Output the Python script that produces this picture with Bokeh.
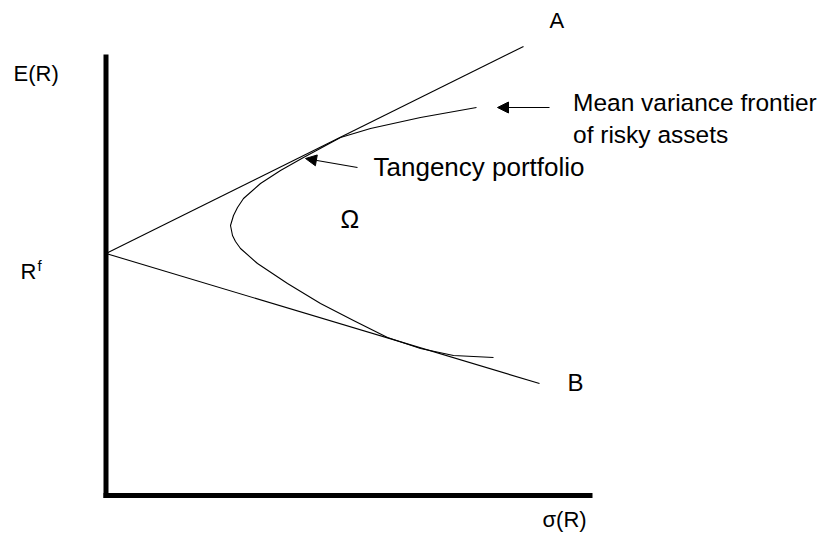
from bokeh.plotting import figure
from bokeh.models import Range1d, Arrow, NormalHead
from bokeh.core.properties import value
from bokeh.embed import file_html
from bokeh.resources import INLINE

# ---- data (sigma, expected return), axes corner at (0, 0) ----
rf = 2.42
line_a_end = (4.175, 4.49)
line_b_end = (4.335, 1.12)

frontier_sigma = [3.705, 3.145, 2.645, 2.345, 1.975, 1.745, 1.545, 1.375, 1.315,
                  1.275, 1.245, 1.265, 1.295, 1.345, 1.515, 1.815, 2.145, 2.475,
                  2.815, 3.145, 3.475, 3.875]
frontier_ret = [3.88, 3.78, 3.67, 3.58, 3.38, 3.25, 3.12, 2.97, 2.88,
                2.80, 2.70, 2.60, 2.54, 2.47, 2.32, 2.12, 1.92, 1.75,
                1.58, 1.47, 1.40, 1.38]

axis_top = 4.41
axis_right = 4.865

FONT = value("Liberation Sans")

p = figure(width=822, height=532, output_backend="svg", toolbar_location=None,
           x_range=Range1d(-1.055, 7.165), y_range=Range1d(-0.37, 4.95),
           min_border=0, background_fill_color="white", border_fill_color="white")
p.axis.visible = False
p.grid.visible = False
p.outline_line_color = None

# thick axes
p.segment(x0=[0, -0.025], y0=[-0.025, 0], x1=[0, axis_right], y1=[axis_top, 0],
          line_color="black", line_width=5, line_cap="butt")

# lines from the risk-free rate
p.segment(x0=[0, 0], y0=[rf, rf], x1=[line_a_end[0], line_b_end[0]],
          y1=[line_a_end[1], line_b_end[1]], line_color="black", line_width=1.1)

# mean variance frontier
p.line(frontier_sigma, frontier_ret, line_color="black", line_width=1.1,
       line_join="round")

# arrows
for xs, ys, xe, ye in [(4.435, 3.88, 3.915, 3.88), (2.515, 3.28, 1.995, 3.37)]:
    p.add_layout(Arrow(end=NormalHead(size=11, fill_color="black", line_color="black", line_width=1),
                       x_start=xs, y_start=ys, x_end=xe, y_end=ye,
                       line_color="black", line_width=1.1))

def label(x, y, t, size):
    # small upward correction for the renderer's baseline placement
    p.text(x=[x], y=[y + 0.004 * size], text=[t], text_font=FONT,
           text_font_size=f"{size}px", text_color="black",
           text_align="left", text_baseline="alphabetic")

label(-0.925, 4.13, "E(R)", 22)
label(-0.855, 2.15, "R", 22)
label(-0.685, 2.24, "f", 15)
label(4.435, 4.66, "A", 22)
label(4.615, 1.03, "B", 24)
label(2.345, 2.67, "Ω", 25)
label(2.675, 3.18, "Tangency portfolio", 26)
label(4.67, 3.83, "Mean variance frontier", 24.5)
label(4.67, 3.51, "of risky assets", 24.5)
label(4.365, -0.33, "σ(R)", 22)

open("out.html", "w").write(file_html(p, INLINE))
